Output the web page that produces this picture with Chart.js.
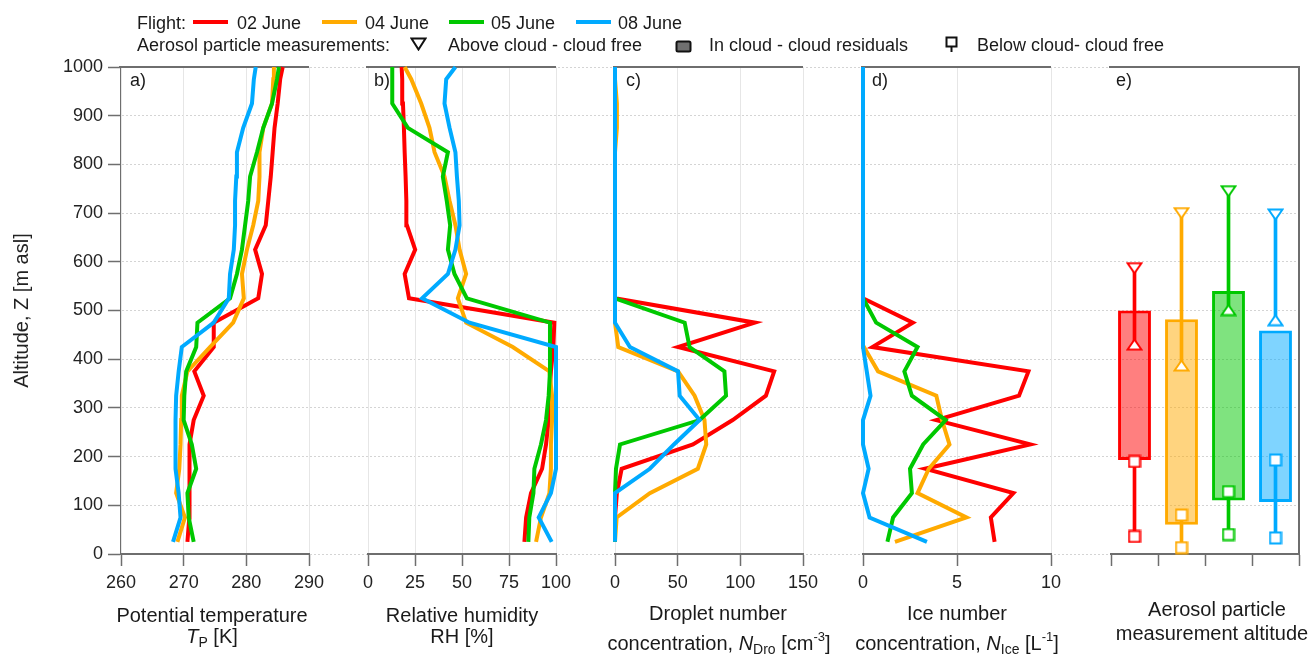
<!DOCTYPE html>
<html>
<head>
<meta charset="utf-8">
<script src="https://cdn.jsdelivr.net/npm/chart.js@4.4.0/dist/chart.umd.min.js"></script>
<style>
html,body{margin:0;padding:0;background:#fff;}
#wrap{position:relative;width:1313px;height:654px;overflow:hidden;font-family:"Liberation Sans",Arial,Helvetica,sans-serif;color:#1a1a1a;}
#wrap canvas{position:absolute;top:0;}
.t{position:absolute;white-space:nowrap;font-size:18px;line-height:20px;}
.ttl{position:absolute;white-space:nowrap;font-size:20px;line-height:24px;transform:translateX(-50%);}
.ttl sub{font-size:14px;vertical-align:-4px;line-height:0;}
.ttl sup{font-size:13px;vertical-align:9px;line-height:0;}
.sw{position:absolute;height:4px;}
.sym{position:absolute;}
</style>
</head>
<body>
<div id="wrap"></div>
<script>
// ---------------- DATA ----------------
const flights = ['02 June', '04 June', '05 June', '08 June'];
const altitude = [25, 75, 125, 175, 225, 275, 325, 375, 425, 475, 525, 575, 625, 675, 725, 775, 825, 875, 925, 975, 1000];

// a) Potential temperature [K]
const tpot_02 = [270.6, 270.9, 270.9, 270.9, 271.0, 271.6, 273.2, 271.7, 274.8, 274.8, 281.9, 282.5, 281.4, 283.1, 283.5, 283.9, 284.2, 284.5, 285.0, 285.4, 285.8];
const tpot_04 = [269.0, 270.2, 268.8, 269.3, 269.5, 269.6, 269.7, 270.6, 274.2, 277.9, 279.6, 279.3, 280.1, 281.1, 281.9, 282.1, 282.1, 282.7, 284.1, 284.3, 284.4];
const tpot_05 = [271.6, 270.8, 270.6, 272.0, 271.3, 270.0, 270.1, 270.4, 272.0, 272.2, 277.4, 278.5, 279.3, 279.8, 280.3, 280.6, 281.7, 282.7, 284.1, 284.9, 285.2];
const tpot_08 = [268.3, 269.5, 269.2, 268.7, 268.7, 268.7, 268.8, 269.2, 269.7, 274.8, 277.2, 277.4, 278.0, 278.2, 278.2, 278.4, 278.5, 279.5, 280.9, 281.2, 281.5];

// b) Relative humidity [%]
const rh_02 = [83.2, 84.1, 86.7, 92.6, 94.7, 96.1, 96.5, 97.3, 98.6, 99.1, 21.8, 19.5, 25.1, 20.7, 20.4, 20.0, 19.5, 19.1, 18.6, 18.2, 17.9];
const rh_04 = [89.4, 92.0, 96.5, 97.3, 97.3, 97.9, 97.9, 96.5, 77.0, 52.2, 47.8, 52.2, 48.7, 46.5, 43.4, 40.7, 35.4, 32.7, 28.3, 23.0, 19.5];
const rh_05 = [85.3, 85.8, 88.0, 88.5, 92.0, 94.7, 96.1, 96.8, 96.8, 96.8, 52.6, 46.0, 42.5, 43.7, 41.9, 39.8, 42.5, 21.2, 12.9, 12.9, 12.9];
const rh_08 = [97.7, 90.8, 97.3, 100, 100, 100, 100, 100, 100, 54.0, 28.8, 42.5, 46.5, 48.7, 48.3, 47.3, 46.5, 43.4, 40.7, 41.6, 46.5];

// c) Droplet number concentration [cm-3]
const nd_02 = [0, 0, 1.5, 5.3, 62.2, 93.9, 120.4, 127.0, 50.3, 111.6, 0, 0, 0, 0, 0, 0, 0, 0, 0, 0, 0];
const nd_04 = [0, 1.3, 27.8, 66.1, 72.8, 71.4, 63.5, 50.3, 2.6, 0, 0, 0, 0, 0, 0, 0, 0, 1.5, 1.5, 0, 0];
const nd_05 = [0, 0, 0, 0.8, 4.0, 67.5, 88.6, 87.3, 59.5, 55.6, 0, 0, 0, 0, 0, 0, 0, 0, 0, 0, 0];
const nd_08 = [0, 0, 0, 27.8, 47.0, 67.5, 51.6, 50.3, 11.9, 0, 0, 0, 0, 0, 0, 0, 0, 0, 0, 0, 0];

// d) Ice number concentration [L-1]
const ni_02 = [7.0, 6.8, 8.0, 3.3, 8.9, 3.9, 8.3, 8.8, 0.5, 2.65, 0, 0, 0, 0, 0, 0, 0, 0, 0, 0, 0];
const ni_04 = [1.7, 5.5, 2.9, 3.5, 4.6, 4.2, 3.9, 0.8, 0.05, 0, 0, 0, 0, 0, 0, 0, 0, 0, 0, 0, 0];
const ni_05 = [1.3, 1.6, 2.6, 2.5, 3.2, 4.4, 2.6, 2.2, 2.9, 0.7, 0, 0, 0, 0, 0, 0, 0, 0, 0, 0, 0];
const ni_08 = [3.4, 0.35, 0, 0.3, 0, 0, 0.4, 0.2, 0, 0, 0, 0, 0, 0, 0, 0, 0, 0, 0, 0, 0];

// e) Aerosol particle measurement altitudes [m asl]
const aboveCloud = [587, 700, 745, 697];
const cloudTopMark = [430, 387, 501, 480];
const inCloudTop = [500, 482, 540, 459];
const inCloudBase = [193, 60, 110, 107];
const cloudBaseMark = [190, 80, 128, 193];
const belowCloud = [36, 13, 40, 33];

// ---------------- STYLE ----------------
const colors = ['#ff0000', '#ffaa00', '#00c800', '#00aaff'];
const fills = ['rgba(255,0,0,0.5)', 'rgba(255,170,0,0.5)', 'rgba(0,200,0,0.5)', 'rgba(0,170,255,0.5)'];
const FONT = '"Liberation Sans", Arial, Helvetica, sans-serif';
Chart.defaults.font.family = FONT;
Chart.defaults.color = '#222';

const W = 1313, H = 654;
const TOP = 67, AXIS_H = 100, PAD = 30, PW = 188;
const panelLeft = [121, 368, 615, 863, 1111];
const AX = '#6e6e6e';
const plain = v => String(v);

const wrap = document.getElementById('wrap');
function makeCanvas(left, width) {
  const c = document.createElement('canvas');
  c.width = width; c.height = H;
  c.style.left = left + 'px'; c.style.width = width + 'px'; c.style.height = H + 'px';
  wrap.appendChild(c);
  return c;
}

const framePlugin = {
  id: 'frame',
  beforeDatasetsDraw(chart, args, opts) {
    const {ctx, chartArea: a} = chart;
    ctx.save();
    ctx.strokeStyle = AX; ctx.lineWidth = 2;
    ctx.beginPath();
    ctx.moveTo(a.left - 2, a.top); ctx.lineTo(a.right + (opts.right ? 1 : 0), a.top);
    if (opts.right) { ctx.moveTo(a.right, a.top); ctx.lineTo(a.right, a.bottom + 1); }
    ctx.stroke();
    ctx.restore();
  }
};

// ---------------- BACKGROUND (shared altitude axis) ----------------
new Chart(makeCanvas(0, W), {
  type: 'scatter',
  data: {datasets: []},
  options: {
    responsive: false, animation: false, devicePixelRatio: 1,
    layout: {padding: {left: 10, top: TOP, right: W - 1299, bottom: AXIS_H}},
    plugins: {legend: {display: false}, tooltip: {enabled: false}},
    scales: {
      x: {type: 'linear', min: 0, max: 1, display: false},
      y: {
        type: 'linear', min: 0, max: 1000,
        ticks: {stepSize: 100, font: {size: 18}, color: '#222', padding: 5, callback: plain},
        grid: {color: '#d4d4d4', lineWidth: 1, tickColor: AX, tickLength: 13, tickWidth: 1.5},
        border: {color: AX, width: 2, dash: [2, 2]},
        title: {display: true, text: 'Altitude, Z [m asl]', font: {size: 20}, color: '#222', padding: 0},
        afterFit: s => { s.width = 111; }
      }
    }
  }
});

// ---------------- PROFILE PANELS ----------------
function series(vals, i) {
  return {
    label: flights[i],
    data: altitude.map((a, k) => ({x: vals[k], y: a})),
    borderColor: colors[i], backgroundColor: colors[i],
    borderWidth: 4, pointRadius: 0, tension: 0, fill: false,
    clip: false, order: 3 - i, borderJoinStyle: 'miter'
  };
}
function xAxis(min, max, step) {
  return {
    type: 'linear', min: min, max: max, position: 'bottom',
    ticks: {stepSize: step, font: {size: 18}, color: '#222', padding: 6, maxRotation: 0, autoSkip: false, callback: plain},
    grid: {color: '#e6e6e6', lineWidth: 1, tickColor: AX, tickLength: 12, tickWidth: 1.5},
    border: {color: AX, width: 2},
    afterFit: s => { s.height = AXIS_H; }
  };
}
function profile(p, xs, sets) {
  new Chart(makeCanvas(panelLeft[p] - PAD, PW + 2 * PAD), {
    type: 'line',
    data: {datasets: sets.map((v, i) => series(v, i))},
    options: {
      responsive: false, animation: false, devicePixelRatio: 1,
      layout: {padding: {left: PAD, right: PAD, top: TOP, bottom: 0}},
      plugins: {legend: {display: false}, tooltip: {enabled: false}, frame: {right: false}},
      scales: {x: xs, y: {type: 'linear', min: 0, max: 1000, display: false}}
    },
    plugins: [framePlugin]
  });
}
profile(0, xAxis(260, 290, 10), [tpot_02, tpot_04, tpot_05, tpot_08]);
profile(1, xAxis(0, 100, 25), [rh_02, rh_04, rh_05, rh_08]);
profile(2, xAxis(0, 150, 50), [nd_02, nd_04, nd_05, nd_08]);
profile(3, xAxis(0, 10, 5), [ni_02, ni_04, ni_05, ni_08]);

// ---------------- PANEL e ----------------
function marker(shape, color) {
  const c = document.createElement('canvas');
  const tri = shape !== 'rect';
  const w = tri ? 17 : 14, h = tri ? 13 : 14;
  c.width = w; c.height = h;
  const g = c.getContext('2d');
  g.fillStyle = '#fff'; g.strokeStyle = color; g.lineWidth = 2; g.lineJoin = 'miter';
  g.beginPath();
  if (shape === 'down') { g.moveTo(1.5, 1.5); g.lineTo(w - 1.5, 1.5); g.lineTo(w / 2, h - 1.5); g.closePath(); }
  else if (shape === 'up') { g.moveTo(1.5, h - 1.5); g.lineTo(w - 1.5, h - 1.5); g.lineTo(w / 2, 1.5); g.closePath(); }
  else { g.rect(1.5, 1.5, w - 3, h - 3); }
  g.fill(); g.stroke();
  return c;
}
function markerSet(vals, shape) {
  return {
    type: 'line', data: vals, showLine: false, order: 0, clip: false,
    pointStyle: colors.map(c => marker(shape, c)), pointRadius: 6, pointHoverRadius: 6
  };
}
function whisker(lo, hi) {
  return {
    type: 'bar', data: lo.map((v, i) => [v, hi[i]]), grouped: false, order: 1,
    backgroundColor: colors, borderWidth: 0, barThickness: 3
  };
}
new Chart(makeCanvas(panelLeft[4] - PAD, PW + 2 * PAD), {
  type: 'bar',
  data: {
    labels: flights,
    datasets: [
      markerSet(aboveCloud, 'down'),
      markerSet(cloudTopMark, 'up'),
      markerSet(cloudBaseMark, 'rect'),
      markerSet(belowCloud, 'rect'),
      whisker(cloudTopMark, aboveCloud),
      whisker(belowCloud, cloudBaseMark),
      {
        type: 'bar', data: inCloudBase.map((v, i) => [v, inCloudTop[i]]), grouped: false, order: 2,
        backgroundColor: fills, borderColor: colors, borderWidth: 3, borderSkipped: false,
        barPercentage: 0.7, categoryPercentage: 1
      }
    ]
  },
  options: {
    responsive: false, animation: false, devicePixelRatio: 1,
    layout: {padding: {left: PAD, right: PAD, top: TOP, bottom: 0}},
    plugins: {legend: {display: false}, tooltip: {enabled: false}, frame: {right: true}},
    scales: {
      x: {
        type: 'category', offset: true,
        ticks: {display: false},
        grid: {offset: true, drawOnChartArea: false, tickColor: AX, tickLength: 12, tickWidth: 1.5},
        border: {color: AX, width: 2},
        afterFit: s => { s.height = AXIS_H; }
      },
      y: {type: 'linear', min: 0, max: 1000, display: false}
    }
  },
  plugins: [framePlugin]
});

// ---------------- TEXT: legend, panel letters, axis titles ----------------
function addText(cls, left, top, html) {
  const d = document.createElement('div');
  d.className = cls; d.style.left = left + 'px'; d.style.top = top + 'px';
  d.innerHTML = html; wrap.appendChild(d); return d;
}
function addSym(left, top, w, h, svg) {
  const d = document.createElement('div');
  d.className = 'sym'; d.style.left = left + 'px'; d.style.top = top + 'px';
  d.innerHTML = '<svg width="' + w + '" height="' + h + '" xmlns="http://www.w3.org/2000/svg">' + svg + '</svg>';
  wrap.appendChild(d);
}
// legend row 1
addText('t', 137, 13, 'Flight:');
const swX = [193, 322, 449, 576], lbX = [237, 365, 491, 618];
flights.forEach((f, i) => {
  const s = document.createElement('div');
  s.className = 'sw'; s.style.left = swX[i] + 'px'; s.style.top = '20px'; s.style.width = '35px';
  s.style.background = colors[i]; wrap.appendChild(s);
  addText('t', lbX[i], 13, f);
});
// legend row 2
addText('t', 137, 35, 'Aerosol particle measurements:');
addSym(410, 37, 17, 14, '<path d="M1.5 1.5 L15.5 1.5 L8.5 12.5 Z" fill="#fff" stroke="#111" stroke-width="2"/>');
addText('t', 448, 35, 'Above cloud - cloud free');
addSym(675, 39, 17, 13, '<rect x="1.5" y="1.5" width="14" height="10" rx="1.5" fill="#707070" stroke="#111" stroke-width="2"/>');
addText('t', 709, 35, 'In cloud - cloud residuals');
addSym(945, 36, 14, 16, '<rect x="1.5" y="1.5" width="10" height="9" fill="#fff" stroke="#111" stroke-width="2"/><line x1="6.5" y1="10.5" x2="6.5" y2="16" stroke="#111" stroke-width="2"/>');
addText('t', 977, 35, 'Below cloud- cloud free');

// panel letters
['a)', 'b)', 'c)', 'd)', 'e)'].forEach((l, i) => {
  addText('t', [130, 374, 626, 872, 1116][i], 70, l);
});

// axis titles
addText('ttl', 212, 603, 'Potential temperature');
addText('ttl', 212, 624, '<i>T</i><sub>P</sub> [K]');
addText('ttl', 462, 603, 'Relative humidity');
addText('ttl', 462, 624, 'RH [%]');
addText('ttl', 718, 601, 'Droplet number');
addText('ttl', 719, 631, 'concentration, <i>N</i><sub>Dro</sub> [cm<sup>-3</sup>]');
addText('ttl', 957, 601, 'Ice number');
addText('ttl', 957, 631, 'concentration, <i>N</i><sub>Ice</sub> [L<sup>-1</sup>]');
addText('ttl', 1217, 597, 'Aerosol particle');
addText('ttl', 1212, 621, 'measurement altitude');
</script>
</body>
</html>
